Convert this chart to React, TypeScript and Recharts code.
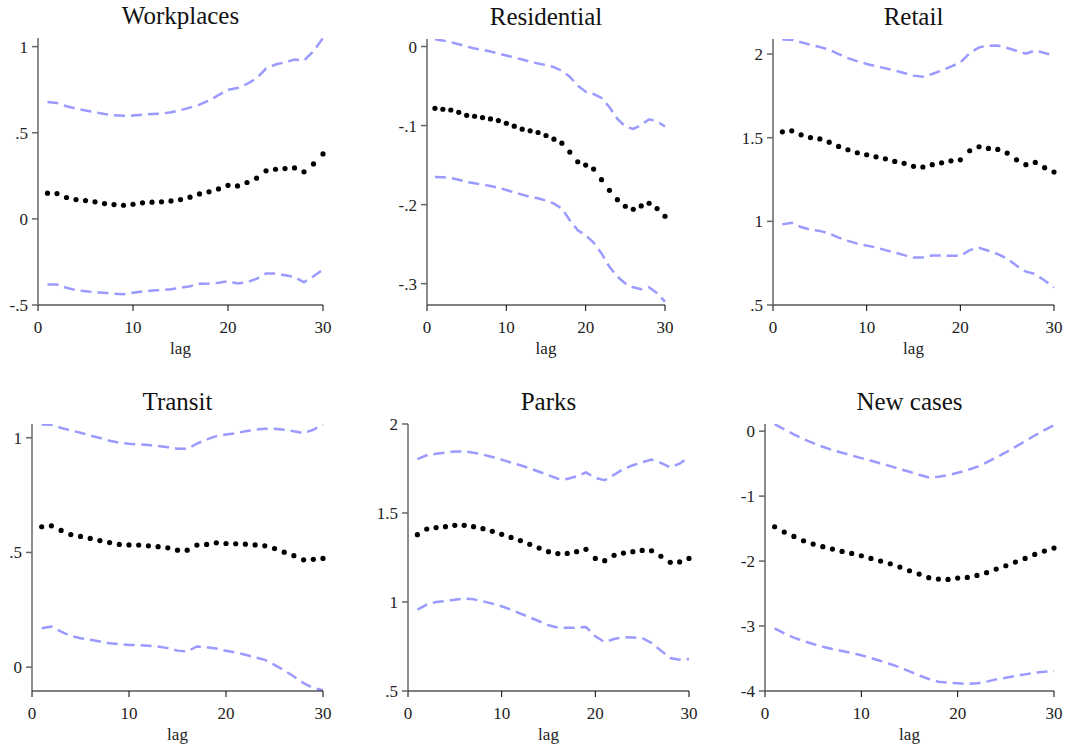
import React from 'react';
import { LineChart, Line, XAxis, YAxis } from 'recharts';

const lags = [1,2,3,4,5,6,7,8,9,10,11,12,13,14,15,16,17,18,19,20,21,22,23,24,25,26,27,28,29,30];
const xTicks = [0, 10, 20, 30];

const workplacesEst = [0.149,0.147,0.124,0.112,0.106,0.099,0.089,0.083,0.079,0.085,0.093,0.097,0.099,0.104,0.112,0.126,0.145,0.157,0.174,0.195,0.191,0.211,0.236,0.279,0.288,0.292,0.296,0.273,0.319,0.377];
const workplacesHi = [0.679,0.673,0.654,0.640,0.629,0.619,0.609,0.602,0.598,0.600,0.605,0.609,0.611,0.619,0.631,0.646,0.663,0.687,0.718,0.750,0.760,0.783,0.816,0.872,0.896,0.909,0.925,0.919,0.973,1.050];
const workplacesLo = [-0.381,-0.381,-0.400,-0.414,-0.420,-0.426,-0.429,-0.435,-0.437,-0.429,-0.422,-0.416,-0.414,-0.408,-0.400,-0.391,-0.377,-0.375,-0.371,-0.362,-0.375,-0.368,-0.348,-0.317,-0.317,-0.327,-0.337,-0.368,-0.333,-0.294];
const workplacesTicks = [-0.5, 0, 0.5, 1];

const residentialEst = [-0.0782,-0.0794,-0.0803,-0.0832,-0.0870,-0.0882,-0.0899,-0.0916,-0.0937,-0.0971,-0.1008,-0.1046,-0.1067,-0.1088,-0.1126,-0.1172,-0.1223,-0.1336,-0.1458,-0.1500,-0.1550,-0.1685,-0.1819,-0.1937,-0.2021,-0.2059,-0.2017,-0.1983,-0.2050,-0.2147];
const residentialHi = [0.0092,0.0076,0.0055,0.0029,0,-0.0025,-0.0042,-0.0063,-0.0088,-0.0113,-0.0139,-0.0164,-0.0193,-0.0214,-0.0235,-0.0261,-0.0307,-0.0382,-0.0496,-0.0571,-0.0601,-0.0651,-0.0769,-0.0916,-0.1013,-0.1042,-0.0992,-0.0920,-0.0945,-0.1013];
const residentialLo = [-0.1651,-0.1655,-0.1664,-0.1685,-0.1714,-0.1731,-0.1748,-0.1765,-0.1786,-0.1815,-0.1845,-0.1874,-0.1903,-0.1920,-0.1950,-0.1987,-0.2050,-0.2197,-0.2324,-0.2387,-0.2479,-0.2618,-0.2786,-0.2912,-0.2996,-0.3046,-0.3071,-0.3046,-0.3122,-0.3227];
const residentialTicks = [-0.3, -0.2, -0.1, 0];

const retailEst = [1.535,1.541,1.517,1.501,1.493,1.473,1.448,1.428,1.410,1.398,1.386,1.374,1.358,1.347,1.329,1.325,1.339,1.350,1.362,1.368,1.422,1.446,1.436,1.430,1.408,1.368,1.339,1.352,1.321,1.295];
const retailHi = [2.087,2.085,2.071,2.055,2.042,2.026,2.000,1.976,1.956,1.941,1.927,1.915,1.901,1.887,1.871,1.865,1.881,1.901,1.925,1.950,2.006,2.040,2.050,2.051,2.036,2.020,2.002,2.022,2.006,1.990];
const retailLo = [0.982,0.992,0.966,0.950,0.943,0.927,0.903,0.883,0.867,0.855,0.844,0.828,0.814,0.798,0.784,0.784,0.796,0.796,0.794,0.794,0.828,0.842,0.824,0.804,0.778,0.735,0.699,0.685,0.646,0.604];
const retailTicks = [0.5, 1, 1.5, 2];

const transitEst = [0.612,0.616,0.596,0.578,0.570,0.561,0.552,0.543,0.535,0.533,0.532,0.529,0.525,0.520,0.510,0.510,0.532,0.535,0.542,0.539,0.538,0.536,0.533,0.529,0.517,0.501,0.486,0.468,0.470,0.474];
const transitHi = [1.058,1.057,1.043,1.032,1.022,1.010,0.999,0.987,0.978,0.974,0.971,0.968,0.964,0.959,0.952,0.952,0.974,0.993,1.007,1.014,1.020,1.028,1.035,1.039,1.039,1.035,1.028,1.020,1.035,1.057];
const transitLo = [0.170,0.177,0.155,0.136,0.126,0.119,0.112,0.104,0.100,0.097,0.096,0.093,0.090,0.083,0.072,0.068,0.090,0.087,0.081,0.071,0.064,0.054,0.043,0.032,0.010,-0.014,-0.041,-0.070,-0.091,-0.101];
const transitTicks = [0, 0.5, 1];

const parksEst = [1.378,1.410,1.418,1.423,1.431,1.431,1.423,1.412,1.397,1.380,1.363,1.345,1.324,1.303,1.283,1.272,1.273,1.283,1.296,1.245,1.232,1.262,1.275,1.283,1.290,1.288,1.257,1.223,1.225,1.245];
const parksHi = [1.803,1.824,1.833,1.839,1.845,1.846,1.839,1.828,1.815,1.800,1.783,1.768,1.751,1.732,1.712,1.693,1.691,1.706,1.728,1.697,1.684,1.715,1.747,1.768,1.785,1.800,1.781,1.757,1.777,1.815];
const parksLo = [0.957,0.985,1.000,1.006,1.013,1.019,1.015,1.004,0.991,0.976,0.957,0.935,0.914,0.892,0.869,0.856,0.856,0.856,0.860,0.807,0.775,0.792,0.803,0.801,0.798,0.770,0.727,0.685,0.676,0.680];
const parksTicks = [0.5, 1, 1.5, 2];

const casesEst = [-1.472,-1.554,-1.621,-1.687,-1.738,-1.779,-1.815,-1.851,-1.882,-1.918,-1.959,-2.000,-2.041,-2.092,-2.149,-2.200,-2.256,-2.277,-2.282,-2.262,-2.251,-2.221,-2.179,-2.123,-2.072,-2.015,-1.959,-1.897,-1.846,-1.800];
const casesHi = [0.108,0.026,-0.051,-0.123,-0.185,-0.241,-0.292,-0.333,-0.374,-0.415,-0.456,-0.497,-0.538,-0.585,-0.626,-0.672,-0.713,-0.703,-0.677,-0.641,-0.600,-0.549,-0.482,-0.405,-0.328,-0.241,-0.154,-0.067,0.015,0.092];
const casesLo = [-3.036,-3.113,-3.179,-3.231,-3.277,-3.318,-3.354,-3.385,-3.415,-3.451,-3.492,-3.538,-3.585,-3.636,-3.697,-3.759,-3.815,-3.856,-3.872,-3.882,-3.892,-3.882,-3.856,-3.821,-3.795,-3.769,-3.744,-3.718,-3.703,-3.692];
const casesTicks = [-4, -3, -2, -1, 0];

const FONT = '"Liberation Serif", "DejaVu Serif", serif';
const CI_COLOR = '#9a9aff';
const TICK_FS = 17;

const fmt = (v: number) => {
  const s = String(v);
  if (s.startsWith('0.')) return s.slice(1);
  if (s.startsWith('-0.')) return '-' + s.slice(2);
  return s;
};

const build = (est: number[], lo: number[], hi: number[]) =>
  lags.map((lag, i) => ({ lag, est: est[i], lo: lo[i], hi: hi[i] }));

type Panel = {
  title: string;
  est: number[]; lo: number[]; hi: number[];
  ticks: number[];
  domain: [number, number];
  x0: number; x1: number; yTop: number; yBot: number;
};

const panels: Panel[] = [
  { title: 'Workplaces', est: workplacesEst, lo: workplacesLo, hi: workplacesHi, ticks: workplacesTicks, domain: [-0.5, 1.05], x0: 38, x1: 323, yTop: 38, yBot: 305 },
  { title: 'Residential', est: residentialEst, lo: residentialLo, hi: residentialHi, ticks: residentialTicks, domain: [-0.327, 0.0095], x0: 427, x1: 665, yTop: 39, yBot: 305 },
  { title: 'Retail', est: retailEst, lo: retailLo, hi: retailHi, ticks: retailTicks, domain: [0.5, 2.09], x0: 773, x1: 1054, yTop: 39, yBot: 305 },
  { title: 'Transit', est: transitEst, lo: transitLo, hi: transitHi, ticks: transitTicks, domain: [-0.104, 1.06], x0: 32, x1: 323, yTop: 424, yBot: 691 },
  { title: 'Parks', est: parksEst, lo: parksLo, hi: parksHi, ticks: parksTicks, domain: [0.5, 2], x0: 408, x1: 689, yTop: 424, yBot: 691 },
  { title: 'New cases', est: casesEst, lo: casesLo, hi: casesHi, ticks: casesTicks, domain: [-4, 0.11], x0: 765, x1: 1054, yTop: 424, yBot: 691 },
];

const Y_W = 60;
const M_TOP = 10;
const M_RIGHT = 15;
const X_H = 55;

const XTick = (props: any) => {
  const { x, y, payload } = props;
  return (
    <text x={x} y={y + 20} textAnchor="middle" fontFamily={FONT} fontSize={TICK_FS} fill="#222">
      {payload.value}
    </text>
  );
};

const YTick = (props: any) => {
  const { x, y, payload } = props;
  return (
    <text x={x - 1} y={y + 6} textAnchor="end" fontFamily={FONT} fontSize={TICK_FS} fill="#222">
      {fmt(payload.value)}
    </text>
  );
};

function PanelChart({ p }: { p: Panel }) {
  const data = build(p.est, p.lo, p.hi);
  const w = p.x1 - p.x0 + Y_W + M_RIGHT;
  const h = p.yBot - p.yTop + M_TOP + X_H;
  const cx = (p.x0 + p.x1) / 2;
  return (
    <>
      <div style={{ position: 'absolute', left: cx - 150, width: 300, top: p.yTop - 37, height: 30, lineHeight: '30px', textAlign: 'center', fontFamily: FONT, fontSize: 25, color: '#111' }}>
        {p.title}
      </div>
      <div style={{ position: 'absolute', left: p.x0 - Y_W, top: p.yTop - M_TOP }}>
        <LineChart width={w} height={h} data={data} margin={{ top: M_TOP, right: M_RIGHT, bottom: 0, left: 0 }}>
          <XAxis dataKey="lag" type="number" domain={[0, 30]} ticks={xTicks} height={X_H}
            stroke="#000" tickSize={6} tick={<XTick />} />
          <YAxis type="number" domain={p.domain} ticks={p.ticks} width={Y_W} allowDataOverflow
            stroke="#666" strokeWidth={1.5} tickSize={6} tickMargin={3} tick={<YTick />} />
          <Line dataKey="hi" type="linear" stroke={CI_COLOR} strokeWidth={2.5} strokeDasharray="11 6" dot={false} isAnimationActive={false} />
          <Line dataKey="lo" type="linear" stroke={CI_COLOR} strokeWidth={2.5} strokeDasharray="11 6" dot={false} isAnimationActive={false} />
          <Line dataKey="est" type="linear" stroke="none" dot={{ r: 2.6, fill: '#000', stroke: 'none' }} isAnimationActive={false} />
        </LineChart>
      </div>
      <div style={{ position: 'absolute', left: cx - 50, width: 100, top: p.yBot + 34, height: 20, lineHeight: '20px', textAlign: 'center', fontFamily: FONT, fontSize: 17, color: '#222' }}>
        lag
      </div>
    </>
  );
}

export default function App() {
  return (
    <div style={{ position: 'absolute', left: 0, top: 0, width: 1069, height: 745, background: '#fff', overflow: 'hidden' }}>
      {panels.map((p) => <PanelChart key={p.title} p={p} />)}
    </div>
  );
}
